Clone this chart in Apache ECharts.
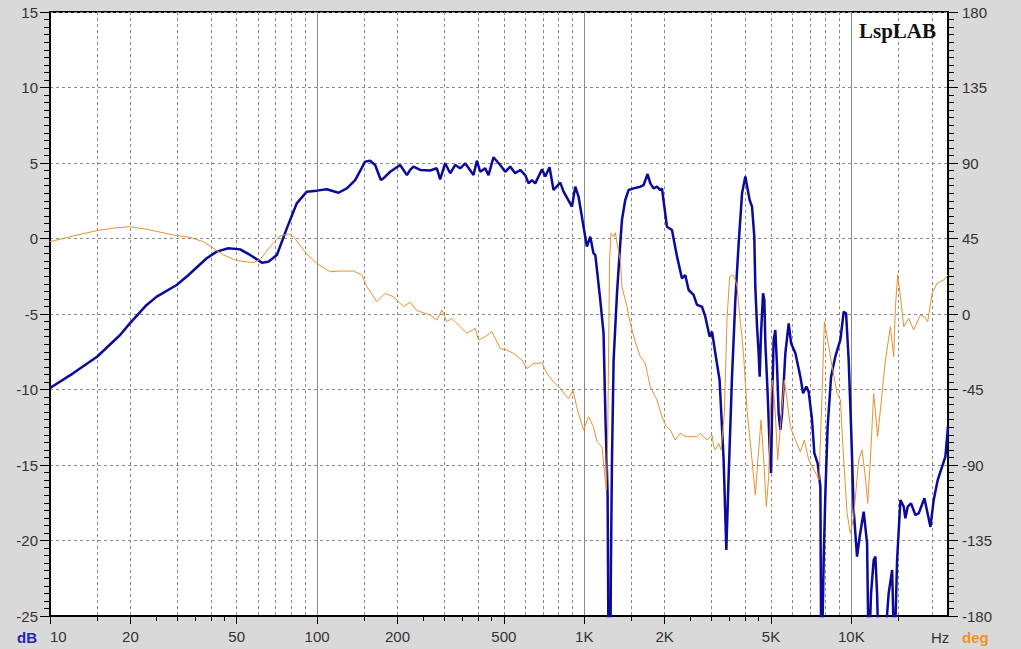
<!DOCTYPE html>
<html>
<head>
<meta charset="utf-8">
<script src="https://cdn.jsdelivr.net/npm/echarts@6/dist/echarts.min.js"></script>
<style>
html,body{margin:0;padding:0;background:#d9d9d9;}
#chart{width:1021px;height:649px;}
</style>
</head>
<body>
<div id="chart"></div>
<script>
// ---- Data ----
// Frequency response (dB), frequency in Hz
const splFreq = [
  10,12.2,15,18.3,19.9,23,25.1,29.8,33,38.6,
  42.1,46.5,51.5,56.1,62.1,65.7,70.7,77,83.9,91.5,
  99.7,108.7,120.2,129.2,138.8,151.3,157.9,164.9,173.2,177.1,
  187.7,204.6,216.8,223,229.5,243.1,265,280.7,288.8,301.5,
  315,328.8,343.3,358.4,384.9,396.3,407.8,425.8,438.1,457.4,
  484.6,506,528.2,551.5,575.9,601.2,618.6,637.1,655.5,694.5,
  714.5,741.3,767.4,813.3,836.8,899.4,925.4,952.1,994,1023,
  1053,1083,1100,1148,1181,1201,1223,1235,1250,1259,
  1270,1288,1326,1364,1384,1424,1465,1530,1621,1668,
  1726,1767,1818,1872,1925,1954,2040,2130,2225,2322,
  2389,2459,2567,2643,2759,2839,2947,3009,3095,3211,
  3325,3403,3471,3574,3678,3785,3897,4009,4160,4247,
  4331,4369,4435,4496,4536,4590,4670,4723,4764,4859,
  4943,5004,5061,5117,5193,5270,5342,5422,5501,5660,
  5826,5948,6173,6442,6594,6785,6921,7126,7267,7478,
  7655,7721,7876,7992,8150,8395,8712,9097,9359,9553,
  9769,9974,10200,10500,10740,11120,11450,11610,11850,12120,
  12300,12480,12660,13210,13790,14210,14490,14830,15260,15700,
  15930,16250,16730,17360,17870,18770,19770,20330,21050,21860,
  22490,23000
];
const splDb = [
  -9.9,-8.93,-7.83,-6.39,-5.62,-4.4,-3.85,-3.08,-2.42,-1.31,
  -0.87,-0.65,-0.72,-1.09,-1.6,-1.54,-1.09,0.67,2.33,3.1,
  3.17,3.26,3.03,3.32,3.87,5.09,5.15,4.87,3.87,3.98,
  4.42,4.87,4.2,4.54,4.76,4.54,4.5,4.65,3.92,4.98,
  4.32,4.87,4.65,4.98,4.2,5.15,4.42,4.65,4.2,5.38,
  4.87,4.42,4.76,4.32,4.54,4.2,3.65,3.87,3.65,4.58,
  4.1,4.72,3.21,3.7,3.1,2.11,3.43,2.77,0.78,-0.54,
  0.12,-0.98,-1.09,-4.07,-6.28,-12,-16.9,-30,-30,-21.3,
  -14.67,-8.05,-3.63,-0.32,1.23,2.55,3.21,3.32,3.43,3.54,
  4.27,3.65,3.32,3.43,3.21,3.32,0.78,0.56,-1.2,-2.64,
  -2.42,-3.41,-3.74,-4.4,-4.52,-5.18,-6.5,-6.17,-7.6,-9.37,
  -14.67,-20.63,-15.77,-9.15,-4.07,-0.32,2.99,4.1,2.55,2.11,
  0.12,-3.19,-5.84,-7.6,-9.15,-6.28,-3.63,-4.07,-6.94,-10.25,
  -13.79,-15.55,-10.25,-6.72,-6.06,-8.49,-11.58,-12.68,-11.58,-7.6,
  -5.62,-6.94,-7.6,-9.15,-10.25,-9.81,-10.14,-12.02,-14.22,-14.89,
  -16.44,-30,-21.3,-16.9,-12.46,-9.15,-7.8,-6.7,-4.85,-4.95,
  -8.05,-12.46,-17.98,-21.07,-19.75,-18.09,-20.19,-28,-23.5,-21.3,
  -21.07,-23.5,-28,-28,-23.5,-21.95,-28,-21.3,-17.32,-17.76,
  -18.53,-17.76,-17.54,-18.31,-18.2,-17.2,-19.1,-17.32,-16,-15.11,
  -14.45,-12.46
];
// Phase response (deg), frequency in Hz
const phaseFreq = [
  10,12.2,15,17.8,19.9,23,29,33.4,37.5,40.9,
  44.6,50,57.7,61.2,66.7,72.7,78.1,81.5,91.5,99.7,
  111.9,122,136.8,147.1,153.5,167.3,179.8,193.1,210.5,223,
  236.3,265,280.7,293.1,306.1,319.6,343.3,363.7,390.7,401.9,
  425.8,451.1,484.6,513.4,543.4,584.5,610.2,645.9,694.5,725.1,
  767.4,801.2,813.3,849.1,873.7,907.6,939.4,994,1038,1083,
  1116,1165,1209,1223,1244,1259,1288,1307,1333,1364,
  1384,1445,1487,1552,1621,1692,1767,1872,1954,2028,
  2099,2192,2289,2389,2495,2643,2720,2759,2881,3009,
  3052,3095,3187,3253,3345,3424,3502,3606,3678,3733,
  3840,3897,3960,4068,4247,4369,4496,4590,4697,4805,
  4902,5004,5075,5193,5297,5422,5611,5744,5911,6173,
  6442,6668,6921,7250,7568,7768,7924,8150,8470,8840,
  9097,9359,9636,9915,10200,10650,10960,11280,11510,11780,
  12120,12540,13030,13410,14000,14400,14620,14910,15260,15700,
  16390,17110,18130,18770,19310,20060,20940,22170,23000
];
const phaseDeg = [
  43.1,46.5,49.7,51.5,52,50.5,47.1,45.7,43.1,39.2,
  35.2,31.8,30.6,32.6,40.1,46.5,47.7,46.1,35.8,30.2,
  25.2,25.6,25.6,23.3,16.3,7.4,12.3,10.3,4.4,7,
  2,-0.6,-3.6,2.4,-4.6,-2.6,-7.6,-11.5,-8.5,-15.5,
  -13.5,-10.5,-20.5,-21.5,-23.5,-27.5,-32.5,-29.5,-29.1,-35.5,
  -40.4,-43.4,-44.3,-48.3,-50.3,-45.3,-56.2,-69.1,-61.2,-67.2,
  -76.1,-79.1,-104.9,-79.1,32.2,48.1,46.1,48.5,40.1,32.2,
  16.3,4.4,-5.5,-16.5,-25.4,-29.4,-43.4,-51.2,-61.2,-67.2,
  -69.1,-75.1,-71.1,-73.1,-73.1,-73.1,-71.1,-72.1,-75,-72.1,
  -79.1,-81,-77.1,-81,-59.2,-3,22.2,23.3,20.3,16.3,
  -5,-13.5,-27.4,-57.2,-87,-107.9,-81,-63.2,-87,-114.8,
  -97,-47.3,-39.3,-59.2,-87,-67.2,-39.3,-51.2,-67.2,-75.1,
  -82.1,-75.1,-87,-93,-98.9,-47.3,-4.6,-15.5,-31.4,-47.3,
  -51.2,-87,-118.8,-130.7,-120.8,-87,-81,-97,-112.8,-87,
  -47.3,-73.1,-47.3,-27.4,-7.6,-25.4,4.4,23.3,10.3,-7.6,
  -2.6,-9.5,-0.6,-1.6,-4.6,12.3,18.3,20.3,23.3
];

// ---- Axis ticks ----
const xMin = 10, xMax = 23000;
const xLabelValues = [10,20,50,100,200,500,1000,2000,5000,10000];
const xMinorTickValues = [
  15,25,30,35,40,45,
  150,250,300,350,400,450,
  1500,2500,3000,3500,4000,4500,
  15000
];
const xDashedGridValues = [
  15,20,30,40,50,60,70,80,90,
  150,200,300,400,500,600,700,800,900,
  1500,2000,3000,4000,5000,6000,7000,8000,9000,
  15000,20000
];
const xSolidGridValues = [100,1000,10000];
const dbMin = -25, dbMax = 15, dbStep = 5;
const degMin = -180, degMax = 180, degStep = 45;

const FONT = '"Liberation Sans", Arial, sans-serif';

function fmtHz(v) {
  return v >= 1000 ? (v / 1000) + 'K' : String(v);
}

function baseX(extra) {
  const o = {
    type: 'log', logBase: 10, min: xMin, max: xMax, position: 'bottom', gridIndex: 0,
    axisLine: { show: false, onZero: false },
    axisTick: { show: false },
    axisLabel: { show: false },
    splitLine: { show: false },
    minorTick: { show: false },
    minorSplitLine: { show: false },
    axisPointer: { show: false }
  };
  return Object.assign(o, extra);
}

const chart = echarts.init(document.getElementById('chart'), null, { renderer: 'svg' });

const option = {
  animation: false,
  backgroundColor: '#d9d9d9',
  grid: {
    left: 50, right: 73, top: 12, bottom: 33,
    show: true, backgroundColor: '#ffffff', borderColor: '#000000', borderWidth: 2,
    containLabel: false, outerBoundsMode: 'none'
  },
  xAxis: [
    baseX({
      axisLine: { show: true, onZero: false, lineStyle: { color: '#000', width: 2 } },
      axisTick: { show: true, inside: false, length: 5, customValues: xMinorTickValues, lineStyle: { color: '#000', width: 1 } }
    }),
    baseX({
      axisTick: { show: true, inside: false, length: 8, customValues: xLabelValues, lineStyle: { color: '#000', width: 1 } },
      axisLabel: {
        show: true, customValues: xLabelValues, formatter: fmtHz,
        fontSize: 15, fontFamily: FONT, color: '#333', margin: 13, alignMinLabel: 'left'
      }
    }),
    baseX({
      axisTick: { show: false, customValues: xDashedGridValues },
      splitLine: { show: true, lineStyle: { color: '#8a8a8a', width: 1, type: [3, 3] } }
    }),
    baseX({
      axisTick: { show: false, customValues: xSolidGridValues },
      splitLine: { show: true, lineStyle: { color: '#8a8a8a', width: 1, type: 'solid' } }
    })
  ],
  yAxis: [
    {
      type: 'value', min: dbMin, max: dbMax, interval: dbStep, position: 'left',
      axisLine: { show: true, onZero: false, lineStyle: { color: '#000', width: 2 } },
      axisTick: { show: true, length: 10, lineStyle: { color: '#000', width: 1 } },
      minorTick: { show: true, splitNumber: 10, length: 6, lineStyle: { color: '#000', width: 1 } },
      axisLabel: { fontSize: 15, fontFamily: FONT, color: '#333', margin: 12 },
      splitLine: { show: true, lineStyle: { color: '#8a8a8a', width: 1, type: [3, 3] } }
    },
    {
      type: 'value', min: degMin, max: degMax, interval: degStep, position: 'right',
      axisLine: { show: true, onZero: false, lineStyle: { color: '#000', width: 2 } },
      axisTick: { show: true, length: 10, lineStyle: { color: '#000', width: 1 } },
      minorTick: { show: true, splitNumber: 10, length: 6, lineStyle: { color: '#000', width: 1 } },
      axisLabel: { fontSize: 15, fontFamily: FONT, color: '#333', margin: 14 },
      splitLine: { show: false }
    }
  ],
  series: [
    {
      name: 'SPL', type: 'line', xAxisIndex: 0, yAxisIndex: 0,
      data: splFreq.map((f, i) => [f, splDb[i]]),
      showSymbol: false, symbol: 'none', smooth: false, clip: true,
      lineStyle: { color: '#0b0b9a', width: 2.5 }, z: 3
    },
    {
      name: 'Phase', type: 'line', xAxisIndex: 0, yAxisIndex: 1,
      data: phaseFreq.map((f, i) => [f, phaseDeg[i]]),
      showSymbol: false, symbol: 'none', smooth: false, clip: true,
      lineStyle: { color: '#e8922e', width: 1 }, z: 4
    }
  ],
  graphic: [
    { type: 'text', left: 17, top: 630, silent: true,
      style: { text: 'dB', fill: '#2424b0', font: 'bold 15px ' + FONT } },
    { type: 'text', left: 931, top: 630, silent: true,
      style: { text: 'Hz', fill: '#333', font: '15px ' + FONT } },
    { type: 'text', left: 962, top: 630, silent: true,
      style: { text: 'deg', fill: '#f0921e', font: 'bold 15px ' + FONT } },
    { type: 'text', left: 859, top: 20, silent: true, z: 10,
      style: { text: 'LspLAB', fill: '#111', font: 'bold 21px "Liberation Serif", "Times New Roman", serif',
               shadowColor: 'rgba(0,0,0,0.45)', shadowBlur: 2, shadowOffsetX: 2, shadowOffsetY: 2 } }
  ]
};

chart.setOption(option);
</script>
</body>
</html>
